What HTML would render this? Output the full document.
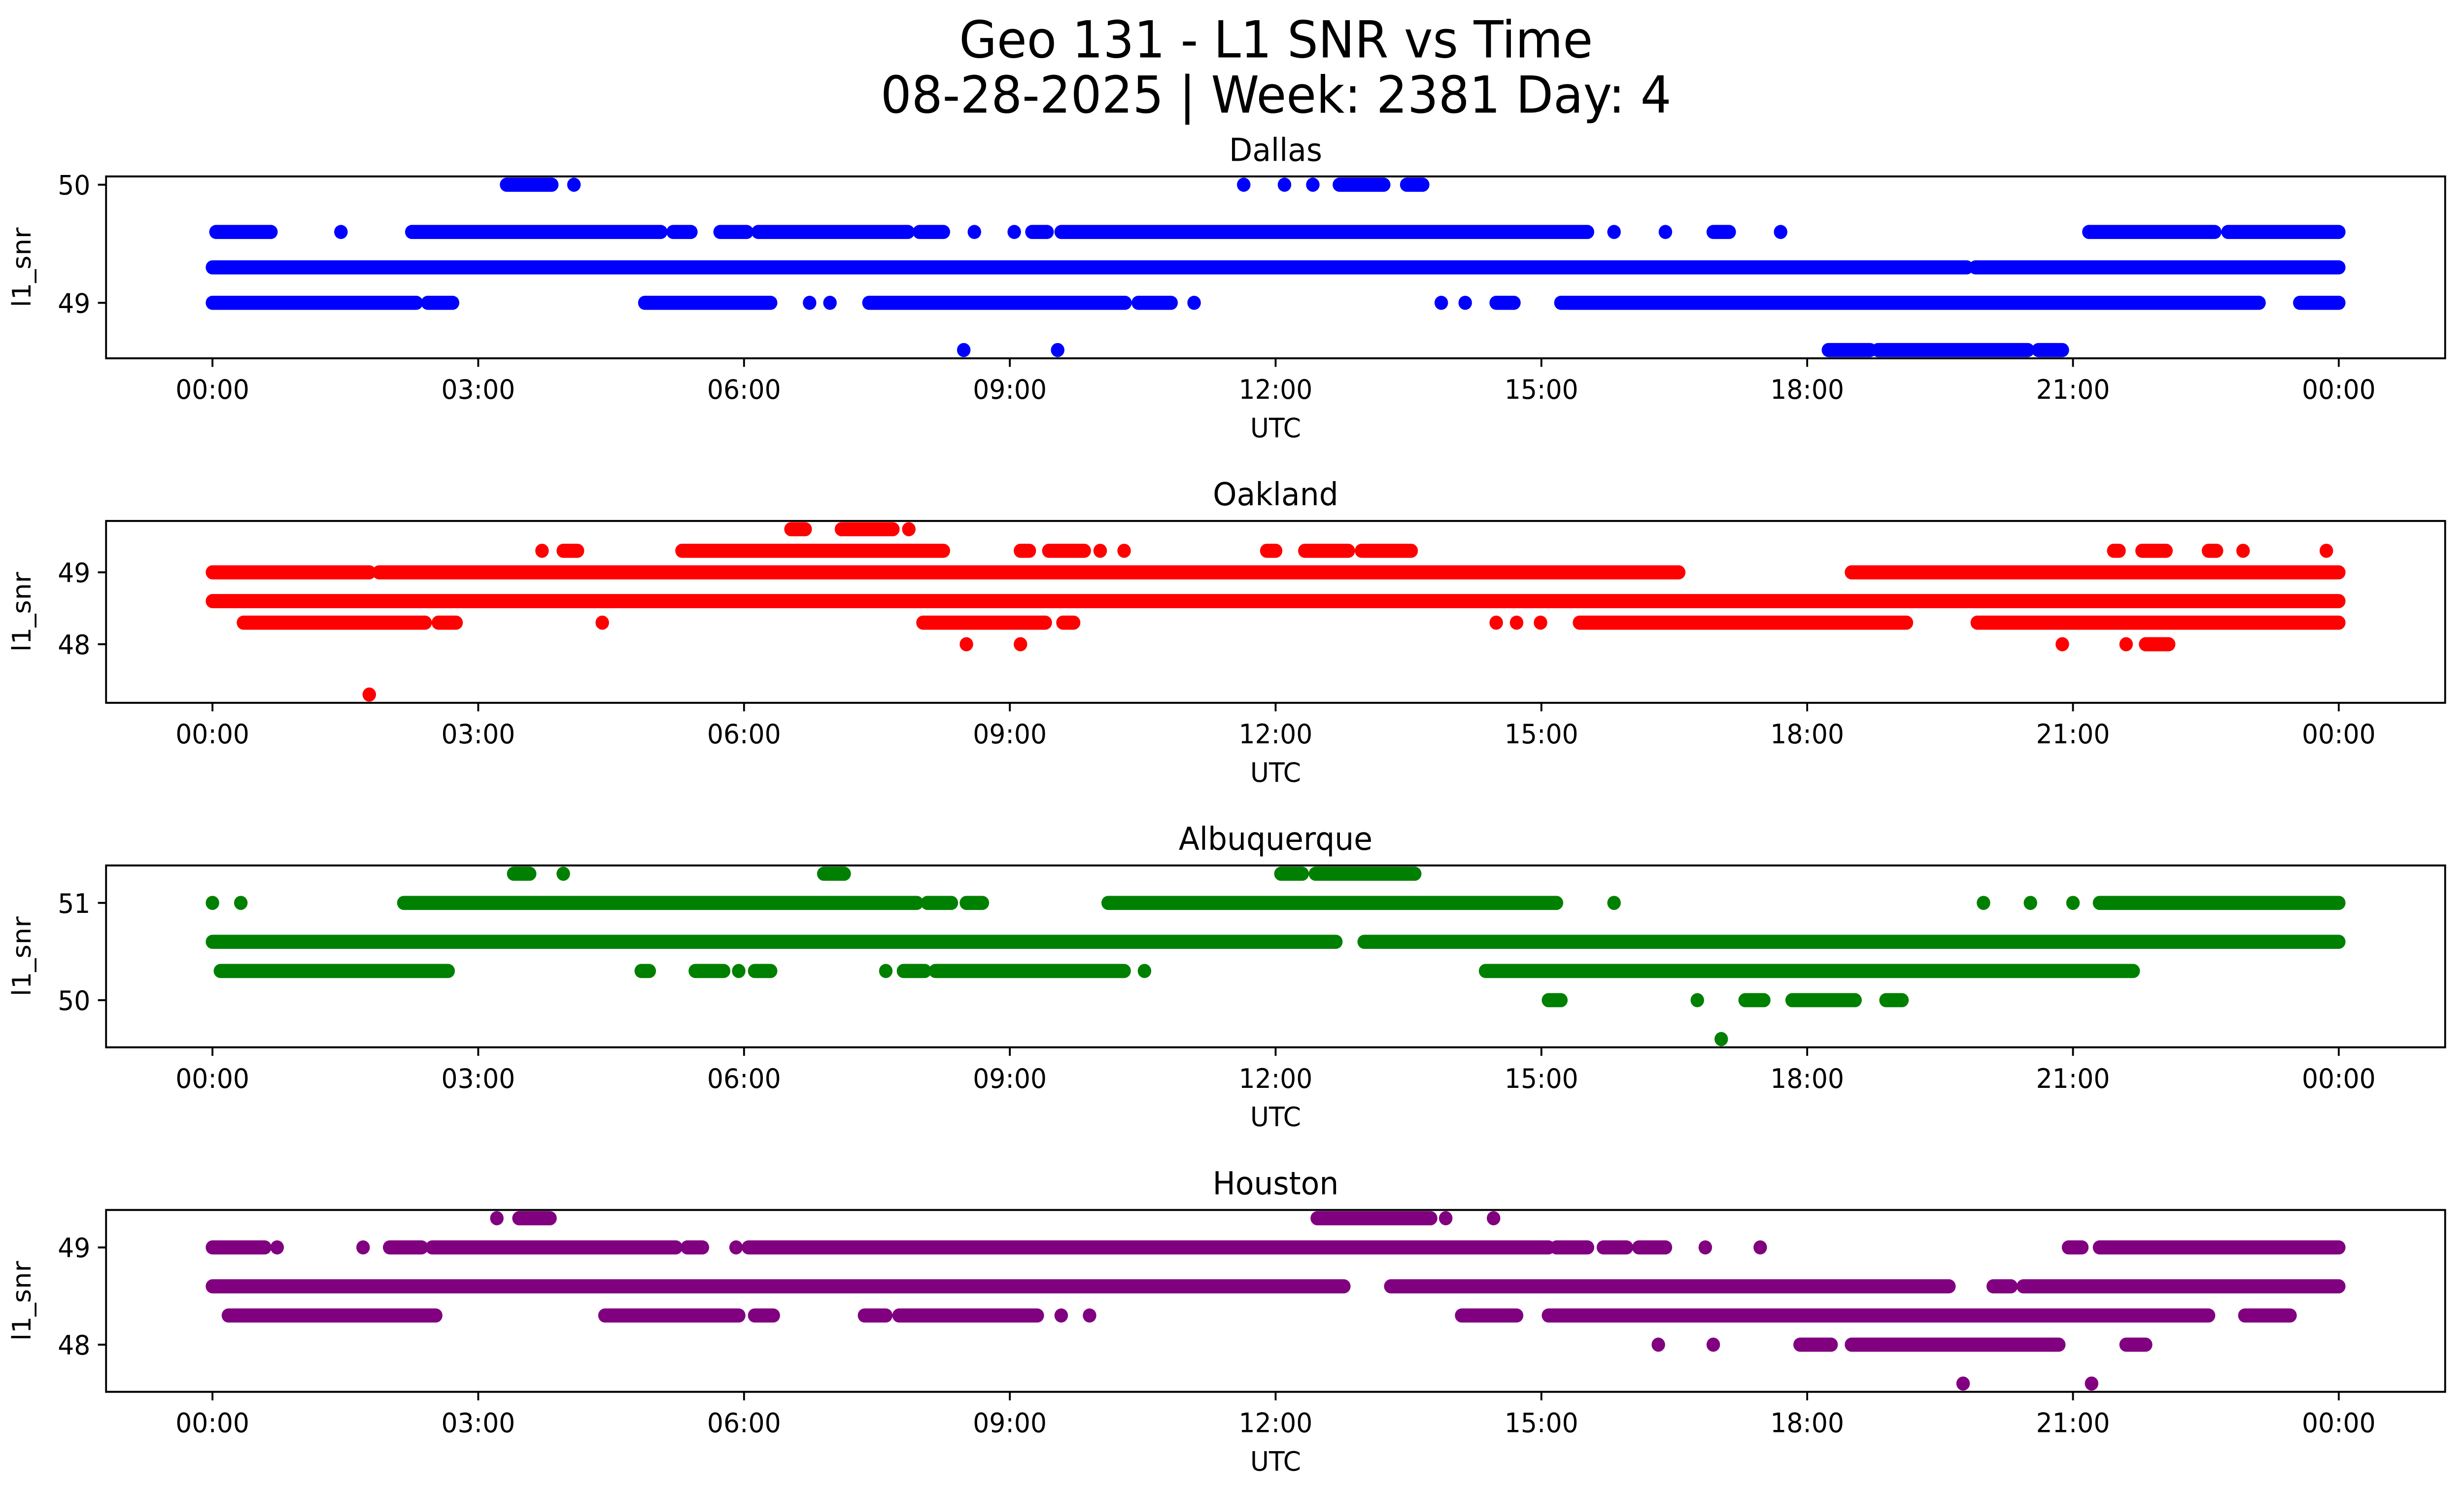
<!DOCTYPE html>
<html><head><meta charset="utf-8"><style>
html,body{margin:0;padding:0;background:#fff;overflow:hidden;width:100%;height:100%}
svg{display:block;width:100vw;height:100vh}
text{font-family:"DejaVu Sans","Liberation Sans",sans-serif;fill:#000}
</style></head><body>
<svg id="chart" xmlns="http://www.w3.org/2000/svg" viewBox="0 0 1568 910" preserveAspectRatio="none">
<rect width="1568" height="910" fill="#fff"/>
<text x="812" y="35" font-size="31" text-anchor="middle">Geo 131 - L1 SNR vs Time</text>
<text x="812" y="68.5" font-size="31" text-anchor="middle">08-28-2025 | Week: 2381 Day: 4</text>
<g id="panels"></g>
</svg>
<script>
const xTickHours=[0,3,6,9,12,15,18,21,24];
const xTickLabels=["00:00","03:00","06:00","09:00","12:00","15:00","18:00","21:00","00:00"];
const panelNames=["Dallas","Oakland","Albuquerque","Houston"];
const panelColors=["#0000ff","#ff0000","#008000","#800080"];
const yDomains=[[48.53,50.07],[47.185,49.715],[49.515,51.385],[47.515,49.385]];
const yTicks=[[49,50],[48,49],[50,51],[48,49]];
// per panel: level -> ranges [start,end] in hours (single value = isolated point)
const dallasSeries={
"50.0":[[3.32,3.83],[4.08],[11.64],[12.1],[12.42],[12.72,13.22],[13.48,13.66]],
"49.6":[[0.04,0.66],[1.45],[2.25,5.06],[5.2,5.4],[5.73,6.03],[6.16,7.85],[7.98,8.25],[8.6],[9.05],[9.25,9.42],[9.58,15.52],[15.82],[16.4],[16.94,17.12],[17.7],[21.18,22.6],[22.75,24]],
"49.3":[[0,19.8],[19.9,24]],
"49.0":[[0,2.3],[2.43,2.71],[4.88,6.3],[6.74],[6.97],[7.41,10.3],[10.45,10.82],[11.08],[13.87],[14.14],[14.49,14.69],[15.22,23.1],[23.56,24]],
"48.6":[[8.48],[9.54],[18.24,18.71],[18.8,20.49],[20.61,20.88]]};
const oaklandSeries={
"49.6":[[6.53,6.69],[7.1,7.68],[7.86]],
"49.3":[[3.72],[3.96,4.12],[5.3,8.25],[9.12,9.22],[9.44,9.84],[10.02],[10.29],[11.9,12.0],[12.33,12.82],[12.97,13.53],[21.46,21.52],[21.78,22.05],[22.53,22.62],[22.92],[23.86]],
"49.0":[[0,1.77],[1.88,16.55],[18.5,24]],
"48.6":[[0,24]],
"48.3":[[0.35,2.4],[2.55,2.75],[4.4],[8.02,9.4],[9.6,9.72],[14.49],[14.72],[14.99],[15.43,19.12],[19.92,24]],
"48.0":[[8.51],[9.12],[20.88],[21.6],[21.82,22.08]],
"47.3":[[1.77]]};
const albuquerqueSeries={
"51.3":[[3.4,3.58],[3.96],[6.9,7.13],[12.06,12.3],[12.45,13.57]],
"51.0":[[0],[0.32],[2.16,7.95],[8.07,8.34],[8.51,8.69],[10.11,15.17],[15.82],[19.99],[20.52],[21.0],[21.3,24]],
"50.6":[[0,12.68],[13.0,24]],
"50.3":[[0.09,2.66],[4.84,4.93],[5.45,5.77],[5.94],[6.12,6.3],[7.6],[7.8,8.04],[8.16,10.29],[10.52],[14.37,21.68]],
"50.0":[[15.08,15.22],[16.76],[17.3,17.51],[17.83,18.54],[18.89,19.07]],
"49.6":[[17.03]]};
const houstonSeries={
"49.3":[[3.21],[3.46,3.81],[12.47,13.75],[13.92],[14.46]],
"49.0":[[0,0.59],[0.73],[1.7],[2.0,2.36],[2.48,5.23],[5.36,5.53],[5.91],[6.05,15.08],[15.17,15.52],[15.7,15.96],[16.1,16.4],[16.85],[17.47],[20.95,21.1],[21.3,24]],
"48.6":[[0,12.77],[13.3,19.6],[20.1,20.3],[20.44,24]],
"48.3":[[0.18,2.52],[4.43,5.94],[6.12,6.33],[7.36,7.6],[7.75,9.31],[9.58],[9.9],[14.1,14.72],[15.08,22.53],[22.94,23.45]],
"48.0":[[16.32],[16.94],[17.92,18.27],[18.5,20.84],[21.6,21.82]],
"47.6":[[19.76],[21.21]]};
const allSeries=[dallasSeries,oaklandSeries,albuquerqueSeries,houstonSeries];

const NS="http://www.w3.org/2000/svg";
const bottoms=[218.1,427.8,637.5,847.2], PH=110.7;
const L=67.5,R=1556,X0=135.2,X1=1488.3;
const xs=h=>X0+(X1-X0)*h/24;
function mk(tag,attrs,parent){const e=document.createElementNS(NS,tag);for(const k in attrs)e.setAttribute(k,attrs[k]);parent.appendChild(e);return e;}
const root=document.getElementById('panels');
panelNames.forEach((name,i)=>{
  const b=bottoms[i],t=b-PH,[d0,d1]=yDomains[i];
  const ys=v=>b-(v-d0)/(d1-d0)*(b-t);
  const g=mk('g',{},root);
  
  
  const tt=mk('text',{x:(L+R)/2,y:t-9.5,'font-size':19.3,'text-anchor':'middle'},g);tt.textContent=name;
  
  
  const pts=mk('g',{fill:panelColors[i],stroke:panelColors[i]},g);
  
  
  const s=allSeries[i];
  for(const lvl in s){
    const y=ys(parseFloat(lvl));
    s[lvl].forEach(r=>{
      let m;
      if(r.length===1){m=mk('circle',{cx:xs(r[0]),cy:y,r:4.3,stroke:'none'},pts);}
      else{m=mk('line',{x1:xs(r[0]),x2:xs(r[1]),y1:y,y2:y,'stroke-width':8.6,'stroke-linecap':'round'},pts);}
      
      
    });
  }
  const frame=mk('rect',{x:L,y:t,width:R-L,height:b-t,fill:'none',stroke:'#000','stroke-width':1.2},g);
  
  
  xTickHours.forEach((h,k)=>{
    mk('line',{x1:xs(h),x2:xs(h),y1:b,y2:b+5.2,stroke:'#000','stroke-width':1.2},g);
    const lb=mk('text',{x:xs(h),y:b+24.6,'font-size':16.3,'text-anchor':'middle'},g);lb.textContent=xTickLabels[k];
    
    
  });
  yTicks[i].forEach(v=>{
    mk('line',{x1:L-5.2,x2:L,y1:ys(v),y2:ys(v),stroke:'#000','stroke-width':1.2},g);
    const lb=mk('text',{x:L-10,y:ys(v)+6,'font-size':16.3,'text-anchor':'end'},g);lb.textContent=v;
    
    
  });
  const xl=mk('text',{x:(L+R)/2,y:b+48,'font-size':16.3,'text-anchor':'middle'},g);xl.textContent='UTC';
  
  
  const yl=mk('text',{x:0,y:0,'font-size':16.3,'text-anchor':'middle',transform:`translate(19.5,${(t+b)/2}) rotate(-90)`},g);yl.textContent='l1_snr';
  
  
});
</script>
</body></html>
